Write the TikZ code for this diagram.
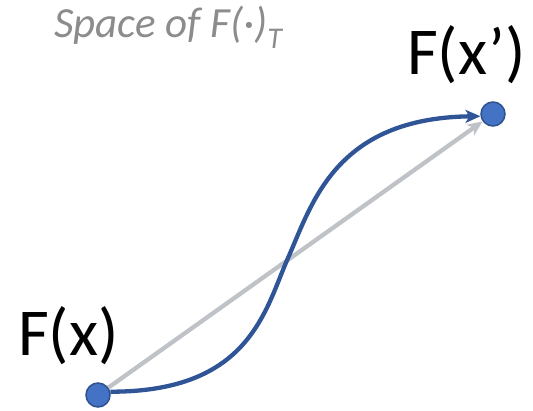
\documentclass[tikz,border=0pt]{standalone}
\usepackage{fontspec}
\setmainfont{Carlito}
\usetikzlibrary{arrows.meta,positioning,backgrounds}
\definecolor{dotfill}{HTML}{4472C4}
\definecolor{dotline}{HTML}{2F528F}
\definecolor{pathblue}{HTML}{2F5597}
\definecolor{lingray}{HTML}{BFC3C8}
\definecolor{titlegray}{HTML}{8C8C8C}
\tikzset{
  pt/.style={circle,draw=dotline,fill=dotfill,line width=1.5pt,
             minimum size=24pt,inner sep=0pt},
  lbl/.style={font=\fontsize{67}{76}\selectfont,inner sep=0pt,anchor=base west},
  ttl/.style={font=\fontsize{43}{50}\selectfont\itshape,text=titlegray,
              inner sep=0pt,anchor=base west},
  arr/.style={-{Stealth[length=15pt,width=13pt,inset=4pt]},line width=4.3pt},
  garr/.style={arr,draw=lingray},
  barr/.style={arr,draw=pathblue},
}

\begin{document}
\begin{tikzpicture}[x=1pt,y=1pt]
\useasboundingbox (0,0) rectangle (533,410);
% the two points and their labels
\node[pt] (fx) at (98,15) {};
\node[pt] (fxp) at (493,296) {};
\node[lbl] (fxlbl) at (18,55) {F(x)};
\node[lbl] (fxplbl) at (407,335) {F(x’)};
\node[ttl] (title) at (54,372) {Space of F(·)\textsubscript{T}};
% straight path vs. curved path
\begin{scope}[on background layer]
\draw[garr] (fx) -- (fxp);
\draw[barr] (fx.15) .. controls (250,18) and (265,100) .. (288,152)
  .. controls (312,206) and (335,292) .. (fxp.190);
\end{scope}
\end{tikzpicture}
\end{document}
